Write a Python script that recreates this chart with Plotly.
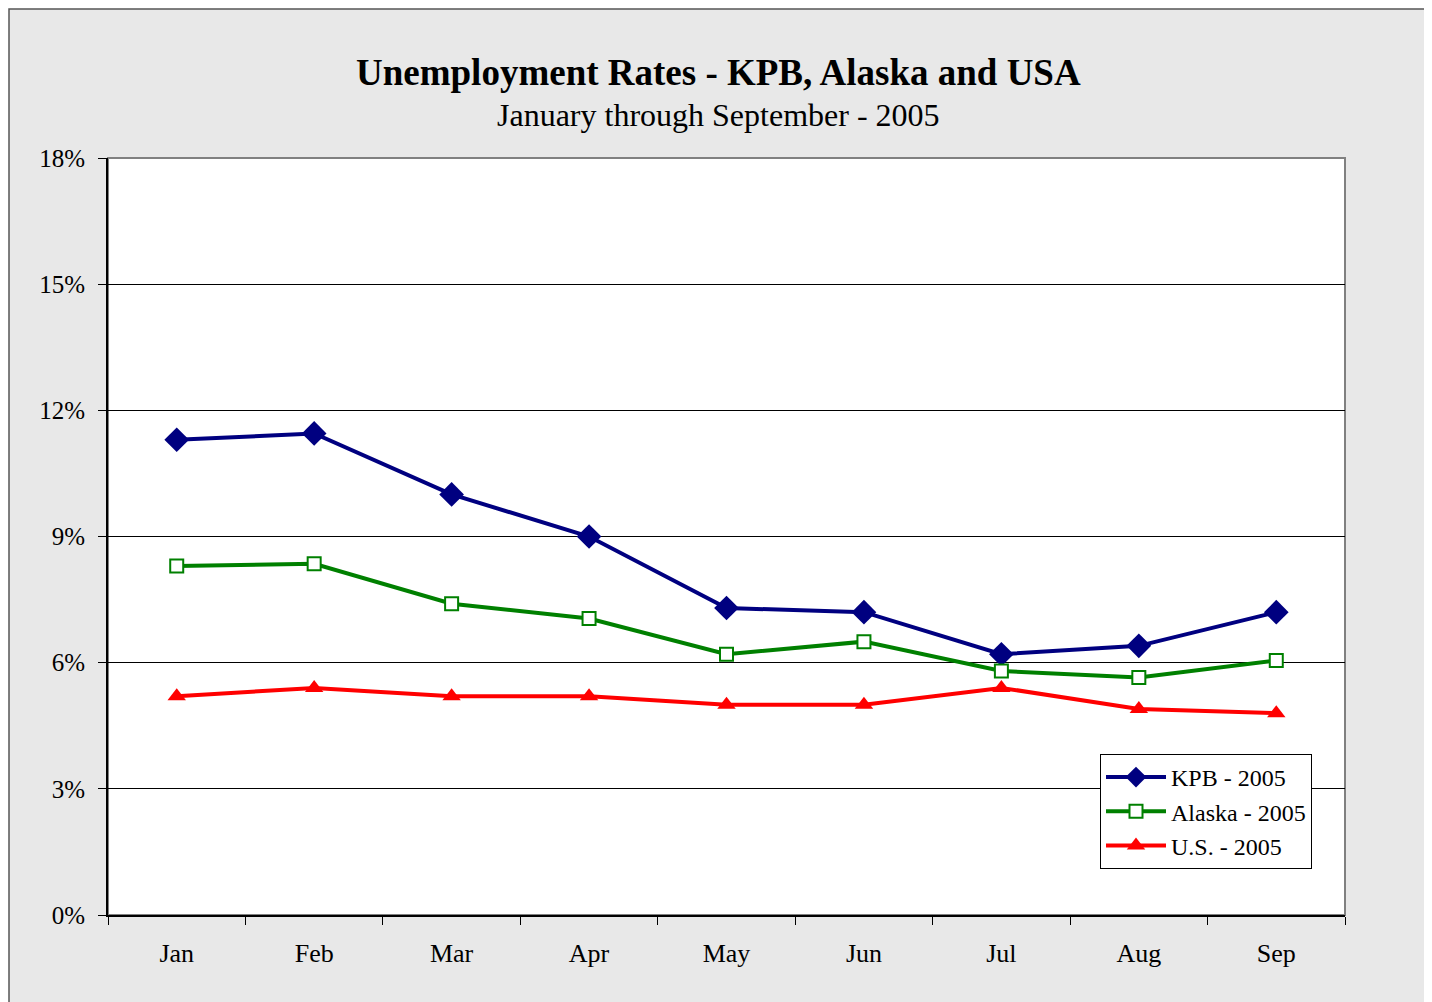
import plotly.graph_objects as go

months = ["Jan", "Feb", "Mar", "Apr", "May", "Jun", "Jul", "Aug", "Sep"]
kpb = [11.3, 11.45, 10.0, 9.0, 7.3, 7.2, 6.2, 6.4, 7.2]
alaska = [8.3, 8.35, 7.4, 7.05, 6.2, 6.5, 5.8, 5.65, 6.05]
usa = [5.2, 5.4, 5.2, 5.2, 5.0, 5.0, 5.4, 4.9, 4.8]
y_ticks = [0, 3, 6, 9, 12, 15, 18]
y_tick_labels = ["0%", "3%", "6%", "9%", "12%", "15%", "18%"]

FONT = "Liberation Serif, Times New Roman, serif"

fig = go.Figure()
fig.add_trace(go.Scatter(
    x=months, y=kpb, name="KPB - 2005", mode="lines+markers",
    line=dict(color="#000080", width=4),
    marker=dict(symbol="diamond", size=19, color="#000080"),
))
fig.add_trace(go.Scatter(
    x=months, y=alaska, name="Alaska - 2005", mode="lines+markers",
    line=dict(color="#008000", width=4),
    marker=dict(symbol="square", size=13, color="white", line=dict(color="#008000", width=2)),
))
fig.add_trace(go.Scatter(
    x=months, y=usa, name="U.S. - 2005", mode="lines+markers",
    line=dict(color="#FF0000", width=4),
    marker=dict(symbol="triangle-up", size=16, color="#FF0000"),
))

# figure is placed at (8, 8) in the page; size chosen to fill the window
W, H = 1424, 994
L, R, T, B = 100, 87, 150, 87
pw, ph = W - L - R, H - T - B

def px_x(px):
    return (px - L) / pw

def px_y(py):
    return (H - B - py) / ph

fig.update_layout(
    width=W, height=H,
    margin=dict(l=L, r=R, t=T, b=B),
    paper_bgcolor="white",
    plot_bgcolor="white",
    font=dict(family=FONT, color="black", size=24),
    showlegend=True,
    legend=dict(
        x=px_x(1092), y=px_y(746), xanchor="left", yanchor="top",
        bgcolor="white", bordercolor="black", borderwidth=1,
        font=dict(family=FONT, size=24, color="black"),
        tracegroupgap=0, itemwidth=60,
    ),
    shapes=[
        dict(type="rect", xref="paper", yref="paper",
             x0=px_x(1), x1=px_x(1419), y0=px_y(1030), y1=px_y(1),
             fillcolor="#E8E8E8", line=dict(color="#555555", width=1.5), layer="below"),
        dict(type="rect", xref="paper", yref="paper",
             x0=0, x1=1, y0=0, y1=1,
             fillcolor="white", line=dict(color="#808080", width=2), layer="below"),
    ],
    annotations=[
        dict(text="<b>Unemployment Rates - KPB, Alaska and USA</b>", xref="paper", yref="paper",
             x=px_x(710), y=px_y(64), xanchor="center", yanchor="middle", showarrow=False,
             font=dict(family=FONT, size=37, color="black")),
        dict(text="January through September - 2005", xref="paper", yref="paper",
             x=px_x(710), y=px_y(107), xanchor="center", yanchor="middle", showarrow=False,
             font=dict(family=FONT, size=32, color="black")),
    ],
)

fig.update_xaxes(
    type="category", categoryorder="array", categoryarray=months,
    range=[-0.5, 8.5],
    showline=True, linecolor="black", linewidth=2,
    ticks="outside", tickson="boundaries", ticklen=8, tickcolor="black", tickwidth=1,
    showgrid=False, zeroline=False,
    tickfont=dict(family=FONT, size=26, color="black"),
    ticklabelstandoff=14,
)
fig.update_yaxes(
    range=[0, 18], tickvals=y_ticks, ticktext=y_tick_labels,
    showline=True, linecolor="black", linewidth=2,
    ticks="outside", ticklen=8, tickcolor="black", tickwidth=1,
    showgrid=True, gridcolor="black", gridwidth=1, zeroline=False,
    tickfont=dict(family=FONT, size=25, color="black"),
    ticklabelstandoff=8,
)

fig.write_html("out.html")
